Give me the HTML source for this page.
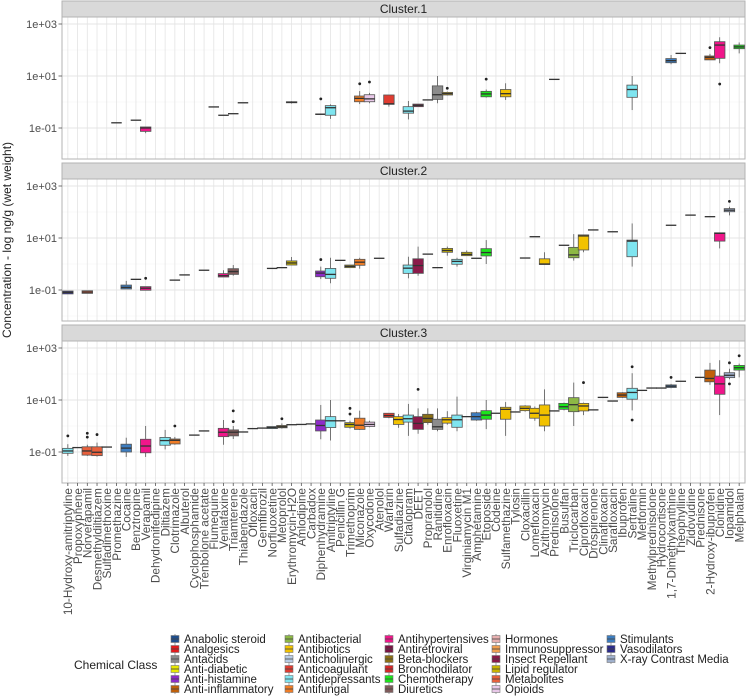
<!DOCTYPE html>
<html><head><meta charset="utf-8"><style>
html,body{margin:0;padding:0;background:#fff;}
svg{display:block;font-family:"Liberation Sans",Arial,sans-serif;}
</style></head><body>
<svg id="chart" width="747" height="697" viewBox="0 0 747 697" xmlns="http://www.w3.org/2000/svg">
<g id="panels"></g>
<g id="xlabels"></g>
<text x="11" y="240" font-size="12" fill="#222" text-anchor="middle" transform="rotate(-90 11 240)">Concentration - log ng/g (wet weight)</text>
<g id="legend">
<text x="74" y="669" font-size="12" fill="#222">Chemical Class</text>
</g>
</svg>
<script>
const categories = ["10-Hydroxy-amitriptyline","Propoxyphene","Norverapamil","Desmethyldiltiazem","Sulfadimethoxine","Promethazine","Cocaine","Benztropine","Verapamil","Dehydronifedipine","Diltiazem","Clotrimazole","Albuterol","Cyclophosphamide","Trenbolone acetate","Flumequine","Venlafaxine","Triamterene","Thiabendazole","Ofloxacin","Gemfibrozil","Norfluoxetine","Metoprolol","Erythromycin-H2O","Amlodipine","Carbadox","Diphenhydramine","Amitriptyline","Penicillin G","Trimethoprim","Miconazole","Oxycodone","Atenolol","Warfarin","Sulfadiazine","Citalopram","DEET","Propranolol","Ranitidine","Enrofloxacin","Fluoxetine","Virginiamycin M1","Amphetamine","Etoposide","Codeine","Sulfamethazine","Tylosin","Cloxacillin","Lomefloxacin","Azithromycin","Prednisolone","Busulfan","Triclocarban","Ciprofloxacin","Drospirenone","Clinafloxacin","Sarafloxacin","Ibuprofen","Sertraline","Metformin","Methylprednisolone","Hydrocortisone","1,7-Dimethylxanthine","Theophylline","Zidovudine","Prednisone","2-Hydroxy-ibuprofen","Clonidine","Iopamidol","Melphalan"];
const panelTitles = ["Cluster.1","Cluster.2","Cluster.3"];
const yTickValues = [3,1,-1];
const yTickLabels = ["1e+03","1e+01","1e-01"];
const classNames = ["Anabolic steroid","Analgesics","Antacids","Anti-diabetic","Anti-histamine","Anti-inflammatory","Antibacterial","Antibiotics","Anticholinergic","Anticoagulant","Antidepressants","Antifungal","Antihypertensives","Antiretroviral","Beta-blockers","Bronchodilator","Chemotherapy","Diuretics","Hormones","Immunosuppressor","Insect Repellant","Lipid regulator","Metabolites","Opioids","Stimulants","Vasodilators","X-ray Contrast Media"];
const classColors = ["#1f4e8c","#e31a1c","#8c8c8c","#e8e800","#8e2bc9","#c0600a","#8db845","#f2c200","#b8cce4","#e03c31","#7fe5f0","#f07d26","#f0168a","#7a1444","#8b6f14","#d62728","#1ce51c","#7f5b5b","#e8b0b0","#f0a050","#8b1a4a","#c9b400","#e8603c","#e8c8e8","#3c7dc0","#2c2c8c","#9fb0cc"];

// Panel 1 (Cluster.1) — log10 values [min, q1, median, q3, max]
const p1Cat = [5,7,8,15,16,17,18,23,26,27,30,31,33,35,36,37,38,39,43,45,50,58,62,63,66,67,69];
const p1Cls = ["Anti-histamine","Anticholinergic","Antihypertensives","Antibiotics","Antidepressants","Diuretics","Antifungal","Antibiotics","Anti-histamine","Antidepressants","Antifungal","Opioids","Anticoagulant","Antidepressants","Insect Repellant","Beta-blockers","Antacids","Antibiotics","Chemotherapy","Antibiotics","Hormones","Antidepressants","Stimulants","Stimulants","Anti-inflammatory","Antihypertensives","Chemotherapy"];
const p1Stats = [[-0.8,-0.8,-0.8,-0.8,-0.8],[-0.7,-0.7,-0.7,-0.7,-0.7],[-1.2,-1.13,-1.0,-0.96,-0.96],[-0.19,-0.19,-0.19,-0.19,-0.19],[-0.51,-0.51,-0.51,-0.51,-0.51],[-0.45,-0.45,-0.45,-0.45,-0.45],[-0.03,-0.03,-0.03,-0.03,-0.03],[-0.06,-0.03,-0.01,0.01,0.03],[-0.49,-0.48,-0.47,-0.46,-0.45],[-0.65,-0.51,-0.22,-0.14,-0.09],[-0.08,0.01,0.14,0.23,0.42],[-0.05,0.01,0.12,0.28,0.35],[-0.18,-0.09,-0.07,0.27,0.27],[-0.67,-0.43,-0.35,-0.18,0.04],[-0.18,-0.18,-0.13,-0.08,-0.08],[0.08,0.08,0.08,0.08,0.08],[-0.05,0.1,0.28,0.62,1.0],[0.25,0.27,0.32,0.37,0.4],[0.17,0.2,0.31,0.41,0.48],[0.08,0.2,0.32,0.48,0.72],[0.87,0.87,0.87,0.87,0.87],[-0.31,0.18,0.48,0.65,1.0],[1.45,1.51,1.59,1.67,1.81],[1.87,1.87,1.87,1.87,1.87],[1.62,1.62,1.72,1.77,1.85],[1.49,1.68,2.19,2.32,2.49],[1.87,2.05,2.12,2.19,2.29]];
const p1Out = [[],[],[],[],[],[],[],[],[0.12],[],[0.7],[0.77],[],[],[],[],[],[0.53],[0.88],[],[],[],[],[],[2.09],[0.69],[]];

// Panel 2 (Cluster.2)
const p2Cat = [0,2,6,7,8,11,12,14,16,17,21,22,23,26,27,28,29,30,32,35,36,37,38,39,40,41,42,43,47,48,49,51,52,53,54,56,58,62,64,66,67,68];
const p2Cls = ["Vasodilators","Metabolites","Stimulants","Anticholinergic","Antihypertensives","Antifungal","Bronchodilator","Anabolic steroid","Antihypertensives","Diuretics","Antidepressants","Beta-blockers","Lipid regulator","Anti-histamine","Antidepressants","Antibiotics","Lipid regulator","Antifungal","Beta-blockers","Antidepressants","Insect Repellant","Beta-blockers","Antacids","Lipid regulator","Antidepressants","Lipid regulator","Stimulants","Chemotherapy","Antibiotics","Antibiotics","Antibiotics","Chemotherapy","Antibacterial","Antibiotics","Hormones","Antibiotics","Antidepressants","Stimulants","Antiretroviral","Anti-inflammatory","Antihypertensives","X-ray Contrast Media"];
const p2Stats = [[-1.15,-1.15,-1.09,-1.04,-1.04],[-1.13,-1.13,-1.08,-1.03,-1.03],[-0.96,-0.96,-0.9,-0.81,-0.65],[-0.59,-0.59,-0.59,-0.59,-0.59],[-1.01,-1.01,-0.93,-0.87,-0.87],[-0.62,-0.62,-0.62,-0.62,-0.62],[-0.42,-0.42,-0.42,-0.42,-0.42],[-0.24,-0.24,-0.24,-0.24,-0.24],[-0.5,-0.5,-0.45,-0.37,-0.24],[-0.45,-0.4,-0.29,-0.18,-0.04],[-0.17,-0.17,-0.17,-0.17,-0.17],[-0.14,-0.14,-0.14,-0.14,-0.14],[-0.04,-0.04,0.04,0.12,0.27],[-0.58,-0.49,-0.35,-0.27,-0.1],[-0.74,-0.55,-0.4,-0.17,0.24],[0.14,0.14,0.14,0.14,0.14],[-0.14,-0.14,-0.09,-0.04,-0.04],[-0.18,-0.05,0.07,0.18,0.24],[0.22,0.22,0.22,0.22,0.22],[-0.55,-0.36,-0.16,-0.04,0.28],[-0.45,-0.36,-0.06,0.2,0.67],[0.38,0.38,0.38,0.38,0.38],[-0.14,-0.14,-0.14,-0.14,-0.14],[0.32,0.45,0.52,0.6,0.67],[-0.1,-0.01,0.1,0.18,0.24],[0.32,0.32,0.37,0.45,0.52],[0.22,0.22,0.22,0.22,0.22],[0.0,0.31,0.44,0.59,0.92],[0.23,0.23,0.23,0.23,0.23],[1.05,1.05,1.05,1.05,1.05],[-0.02,-0.02,0.0,0.2,0.45],[0.72,0.72,0.72,0.72,0.72],[0.13,0.24,0.35,0.64,1.15],[0.45,0.54,1.08,1.12,1.12],[1.31,1.31,1.31,1.31,1.31],[1.24,1.24,1.24,1.24,1.24],[-0.1,0.28,0.88,0.92,1.56],[1.49,1.49,1.49,1.49,1.49],[1.88,1.88,1.88,1.88,1.88],[1.82,1.82,1.82,1.82,1.82],[0.6,0.88,1.18,1.2,1.2],[1.87,2.01,2.07,2.13,2.2]];
const p2Out = [[],[],[],[],[-0.55],[],[],[],[],[],[],[],[],[0.17],[],[],[],[],[],[],[],[],[],[],[],[],[],[],[],[],[],[],[],[],[],[],[],[],[],[],[],[2.41]];

// Panel 3 (Cluster.3)
const p3Cat = [0,1,2,3,4,6,8,10,11,13,14,16,17,18,19,20,21,22,23,24,25,26,27,28,29,30,31,33,34,35,36,37,38,39,40,41,42,43,44,45,46,47,48,49,50,51,52,53,54,55,56,57,58,59,60,61,62,63,65,66,67,68,69];
const p3Cls = ["Antidepressants","Opioids","Metabolites","Metabolites","Antibiotics","Stimulants","Antihypertensives","Antidepressants","Antifungal","Chemotherapy","Anabolic steroid","Antihypertensives","Diuretics","Antifungal","Antibiotics","Lipid regulator","Antidepressants","Beta-blockers","Antibiotics","Antihypertensives","Antibiotics","Anti-histamine","Antidepressants","Antibiotics","Lipid regulator","Antifungal","Opioids","Anticoagulant","Antibiotics","Antidepressants","Insect Repellant","Beta-blockers","Antacids","Antibiotics","Antidepressants","Antibiotics","Stimulants","Chemotherapy","Opioids","Antibiotics","Antibiotics","Antibiotics","Antibiotics","Antibiotics","Hormones","Chemotherapy","Antibacterial","Antibiotics","Hormones","Antibiotics","Antibiotics","Anti-inflammatory","Antidepressants","Anti-diabetic","Hormones","Hormones","Stimulants","Stimulants","Hormones","Anti-inflammatory","Antihypertensives","X-ray Contrast Media","Chemotherapy"];
const p3Stats = [[-1.15,-1.05,-0.96,-0.86,-0.7],[-0.83,-0.83,-0.83,-0.83,-0.83],[-1.15,-1.12,-0.96,-0.8,-0.72],[-1.18,-1.14,-1.01,-0.8,-0.64],[-0.81,-0.81,-0.81,-0.81,-0.81],[-1.19,-1.0,-0.85,-0.7,-0.45],[-1.19,-1.03,-0.77,-0.51,0.0],[-0.9,-0.74,-0.56,-0.44,-0.15],[-0.72,-0.69,-0.55,-0.5,-0.42],[-0.35,-0.35,-0.35,-0.35,-0.35],[-0.19,-0.19,-0.19,-0.19,-0.19],[-0.72,-0.41,-0.24,-0.09,0.23],[-0.5,-0.38,-0.24,-0.15,0.0],[-0.23,-0.23,-0.23,-0.23,-0.23],[-0.1,-0.1,-0.1,-0.1,-0.1],[-0.08,-0.08,-0.08,-0.08,-0.08],[-0.1,-0.1,-0.06,-0.02,-0.02],[-0.1,-0.07,-0.03,0.02,0.1],[0.05,0.05,0.05,0.05,0.05],[0.06,0.06,0.06,0.06,0.06],[0.08,0.08,0.08,0.08,0.08],[-0.51,-0.19,0.02,0.23,0.81],[-0.56,-0.06,0.2,0.36,1.0],[0.2,0.2,0.2,0.2,0.2],[-0.1,-0.05,0.06,0.13,0.2],[-0.15,-0.13,0.03,0.3,0.59],[-0.05,-0.02,0.06,0.15,0.2],[0.3,0.33,0.4,0.49,0.5],[-0.07,0.06,0.25,0.36,0.46],[-0.38,0.15,0.28,0.42,0.85],[-0.3,-0.13,0.1,0.36,0.68],[0.05,0.13,0.29,0.45,0.68],[-0.2,-0.13,-0.03,0.26,0.68],[0.05,0.11,0.24,0.32,0.57],[-0.2,-0.05,0.24,0.42,1.13],[0.36,0.36,0.36,0.36,0.36],[0.2,0.23,0.36,0.51,0.55],[-0.12,0.26,0.42,0.59,1.0],[0.49,0.49,0.49,0.49,0.49],[-0.38,0.26,0.64,0.72,0.92],[0.54,0.54,0.54,0.54,0.54],[0.55,0.59,0.68,0.77,0.8],[0.2,0.3,0.49,0.68,0.75],[-0.2,0.0,0.42,0.81,1.41],[0.58,0.58,0.58,0.58,0.58],[0.6,0.64,0.74,0.87,0.9],[0.0,0.55,0.82,1.09,1.67],[0.42,0.58,0.77,0.87,0.9],[0.62,0.62,0.62,0.62,0.62],[1.1,1.1,1.1,1.1,1.1],[0.96,0.96,0.96,0.96,0.96],[1.08,1.1,1.19,1.28,1.3],[0.6,1.03,1.29,1.45,2.03],[1.37,1.37,1.37,1.37,1.37],[1.46,1.46,1.46,1.46,1.46],[1.46,1.46,1.46,1.46,1.46],[1.45,1.48,1.53,1.58,1.62],[1.72,1.72,1.72,1.72,1.72],[1.87,1.87,1.87,1.87,1.87],[1.58,1.7,1.83,2.15,2.43],[0.42,1.22,1.62,1.92,2.53],[1.8,1.86,1.95,2.05,2.2],[1.87,2.15,2.24,2.33,2.4]];
const p3Out = [[-0.38],[],[-0.28,-0.43],[-0.33],[],[],[],[],[0.0],[],[],[],[0.58,0.17],[],[],[],[],[0.28],[],[],[],[],[],[],[0.68,0.46],[],[],[],[],[],[1.41],[],[],[],[],[],[],[],[],[],[],[],[],[],[],[],[],[1.67],[],[],[],[],[2.28,0.23],[],[],[],[1.87],[],[],[],[],[2.43,1.62],[2.7]];

const NS = "http://www.w3.org/2000/svg";
const X0 = 62, X1 = 745, STEP = (X1 - X0) / (categories.length - 1 + 1.2);
const panelOffsets = [0, 162, 324];
function xScale(i){ return X0 + (i + 0.6) * STEP; }
function yScale(v, p){ return panelOffsets[p] + 24 + (3 - v) * 26; }
function el(tag, attrs, parent){ const e = document.createElementNS(NS, tag); for (const k in attrs) e.setAttribute(k, attrs[k]); parent.appendChild(e); return e; }
function colorOf(c){ return classColors[classNames.indexOf(c)] || "#888"; }

const panelsG = document.getElementById("panels");
const panelData = [[p1Cat,p1Cls,p1Stats,p1Out],[p2Cat,p2Cls,p2Stats,p2Out],[p3Cat,p3Cls,p3Stats,p3Out]];

panelTitles.forEach((title, p) => {
  const off = panelOffsets[p];
  const g = el("g", {}, panelsG);
  
  
  const top = off + 17, bottom = off + 159;
  const bg = el("rect", {x:X0, y:top, width:X1-X0, height:bottom-top, fill:"#fff"}, g);
  
  
  [2,0,-2].forEach(v => { el("line", {x1:X0, x2:X1, y1:yScale(v,p), y2:yScale(v,p), stroke:"#f2f2f2", "stroke-width":0.6}, g); });
  [3,1,-1].forEach(v => { el("line", {x1:X0, x2:X1, y1:yScale(v,p), y2:yScale(v,p), stroke:"#e4e4e4", "stroke-width":1}, g); });
  categories.forEach((c, i) => { el("line", {x1:xScale(i), x2:xScale(i), y1:top, y2:bottom, stroke:"#e4e4e4", "stroke-width":0.8}, g); });
  const border = el("rect", {x:X0, y:top, width:X1-X0, height:bottom-top, fill:"none", stroke:"#b3b3b3", "stroke-width":1}, g);
  
  
  const strip = el("rect", {x:X0, y:off+1, width:X1-X0, height:16, fill:"#d9d9d9", stroke:"#b3b3b3", "stroke-width":1}, g);
  
  
  const st = el("text", {x:(X0+X1)/2, y:off+13, "font-size":12, fill:"#222", "text-anchor":"middle"}, g);
  st.textContent = title;
  
  
  yTickValues.forEach((v, k) => {
    const t = el("text", {x:57, y:yScale(v,p)+4, "font-size":11, fill:"#4d4d4d", "text-anchor":"end"}, g);
    t.textContent = yTickLabels[k];
    
    
    el("line", {x1:58.5, x2:X0, y1:yScale(v,p), y2:yScale(v,p), stroke:"#555", "stroke-width":0.8}, g);
  });
  const [cats, cls, stats, outs] = panelData[p];
  cats.forEach((ci, j) => {
    const s = stats[j], x = xScale(ci), w = 10.5;
    const bx = el("g", {}, g);
    
    
    const col = colorOf(cls[j]);
    el("line", {x1:x, x2:x, y1:yScale(s[4],p), y2:yScale(s[3],p), stroke:"#555", "stroke-width":0.8}, bx);
    el("line", {x1:x, x2:x, y1:yScale(s[1],p), y2:yScale(s[0],p), stroke:"#555", "stroke-width":0.8}, bx);
    const h = Math.max(yScale(s[1],p) - yScale(s[3],p), 0);
    el("rect", {x:x-w/2, y:yScale(s[3],p), width:w, height:h, fill:col, stroke:"#555", "stroke-width":0.8}, bx);
    el("line", {x1:x-w/2, x2:x+w/2, y1:yScale(s[2],p), y2:yScale(s[2],p), stroke:"#333", "stroke-width":1.3}, bx);
    outs[j].forEach(o => { el("circle", {cx:x, cy:yScale(o,p), r:1.4, fill:"#222"}, bx); });
  });
  if (p === 2) {
    categories.forEach((c, i) => { el("line", {x1:xScale(i), x2:xScale(i), y1:bottom, y2:bottom+3, stroke:"#555", "stroke-width":0.8}, g); });
  }
});

const xl = document.getElementById("xlabels");
categories.forEach((c, i) => {
  const x = xScale(i) + 4.3, y = 488;
  const t = el("text", {x:x, y:y, "font-size":11.8, fill:"#4d4d4d", "text-anchor":"end", transform:"rotate(-90 " + x + " " + y + ")"}, xl);
  t.textContent = c;
  
  
});

const lg = document.getElementById("legend");
const colX = [171, 285, 385, 492, 607];
classNames.forEach((c, k) => {
  const col = Math.floor(k / 6), row = k % 6;
  const kx = colX[col], ky = 639 + row * 10;
  const item = el("g", {}, lg);
  
  
  el("line", {x1:kx+4, x2:kx+4, y1:ky-5, y2:ky+5, stroke:"#777", "stroke-width":0.7}, item);
  el("rect", {x:kx, y:ky-3.5, width:8, height:7, fill:classColors[k], stroke:"#777", "stroke-width":0.6}, item);
  el("line", {x1:kx, x2:kx+8, y1:ky, y2:ky, stroke:"#444", "stroke-width":0.8}, item);
  const t = el("text", {x:kx+13, y:ky+4, "font-size":11.5, fill:"#222"}, item);
  t.textContent = c;
});
</script>
</body></html>
